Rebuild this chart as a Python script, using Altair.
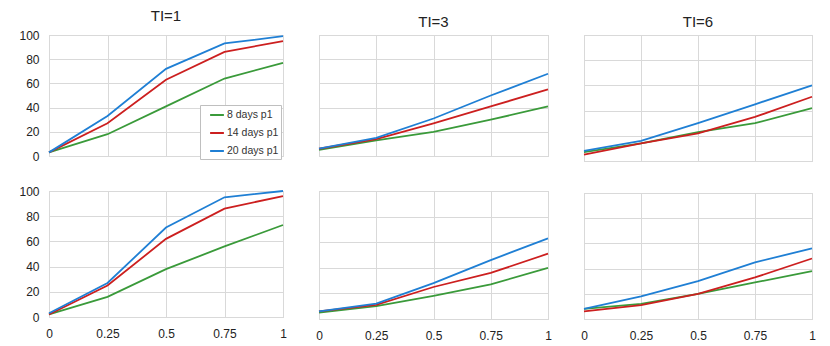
import altair as alt
import pandas as pd

x_vals = [0, 0.25, 0.5, 0.75, 1]
series_names = ["8 days p1", "14 days p1", "20 days p1"]
series_colors = ["#3a9a3a", "#cc1f1f", "#1f7fd4"]
ti_titles = ["TI=1", "TI=3", "TI=6"]

# top row
top_ti1_8 = [3, 18, 41, 64, 77]
top_ti1_14 = [3, 27, 63, 86, 95]
top_ti1_20 = [3, 33, 72, 93, 99]
top_ti3_8 = [5, 13, 20, 30, 41]
top_ti3_14 = [6, 14, 27, 41, 55]
top_ti3_20 = [6, 15, 31, 50, 68]
top_ti6_8 = [7, 14, 23, 30, 42]
top_ti6_14 = [5, 14, 22, 35, 51]
top_ti6_20 = [8, 16, 30, 45, 60]
# bottom row
bot_ti1_8 = [2, 16, 38, 56, 73]
bot_ti1_14 = [2, 25, 62, 86, 96]
bot_ti1_20 = [3, 27, 71, 95, 100]
bot_ti3_8 = [5, 10, 18, 27, 40]
bot_ti3_14 = [6, 11, 25, 36, 51]
bot_ti3_20 = [6, 12, 28, 46, 63]
bot_ti6_8 = [8, 12, 20, 29, 38]
bot_ti6_14 = [6, 11, 20, 33, 48]
bot_ti6_20 = [8, 18, 30, 45, 56]

panels = {
    ("top", 0): [top_ti1_8, top_ti1_14, top_ti1_20],
    ("top", 1): [top_ti3_8, top_ti3_14, top_ti3_20],
    ("top", 2): [top_ti6_8, top_ti6_14, top_ti6_20],
    ("bot", 0): [bot_ti1_8, bot_ti1_14, bot_ti1_20],
    ("bot", 1): [bot_ti3_8, bot_ti3_14, bot_ti3_20],
    ("bot", 2): [bot_ti6_8, bot_ti6_14, bot_ti6_20],
}

FONT = "Liberation Sans"
widths = [234, 229, 228]
top_heights = [121, 121, 126]
bot_heights = [126, 128, 126]
vspacing = [21, 33, 30]


def panel(row, col):
    rows = []
    for name, vals in zip(series_names, panels[(row, col)]):
        for x, v in zip(x_vals, vals):
            rows.append({"x": x, "value": v, "series": name})
    df = pd.DataFrame(rows)
    show_x = row == "bot"
    show_y = col == 0
    xaxis = alt.Axis(
        values=x_vals,
        labels=show_x,
        labelExpr="format(datum.value, '.2~f')",
        labelPadding=11,
        ticks=False,
        domain=False,
        title=None,
        labelFlush=False,
    )
    yaxis = alt.Axis(
        values=[0, 20, 40, 60, 80, 100],
        labels=show_y,
        labelPadding=10,
        ticks=False,
        domain=False,
        title=None,
    )
    legend = None
    if row == "top" and col == 0:
        legend = alt.Legend(
            title=None,
            orient="none",
            legendX=151,
            legendY=70,
            symbolType="stroke",
            symbolSize=190,
            symbolStrokeWidth=2,
            symbolOffset=7,
            labelOffset=2,
            labelFont=FONT,
            labelFontSize=10.5,
            labelColor="#333333",
            rowPadding=4,
            padding=2,
            strokeColor="#bfbfbf",
            fillColor="white",
        )
    h = top_heights[col] if row == "top" else bot_heights[col]
    props = dict(width=widths[col], height=h)
    if row == "top":
        props["title"] = alt.Title(
            ti_titles[col], font=FONT, fontSize=15, fontWeight="normal",
            color="#222222", offset=2, dy=-3, anchor="middle",
        )
    return (
        alt.Chart(df)
        .mark_line(strokeWidth=1.8)
        .encode(
            x=alt.X("x:Q", scale=alt.Scale(domain=[0, 1], nice=False), axis=xaxis),
            y=alt.Y("value:Q", scale=alt.Scale(domain=[0, 100], nice=False), axis=yaxis),
            color=alt.Color(
                "series:N",
                sort=series_names,
                scale=alt.Scale(domain=series_names, range=series_colors),
                legend=legend,
            ),
            order="x:Q",
        )
        .properties(**props)
    )


cols = [
    alt.vconcat(panel("top", c), panel("bot", c), spacing=vspacing[c])
    for c in range(3)
]
chart = (
    alt.hconcat(cols[0], cols[1], cols[2], spacing=26)
    .properties(padding={"left": 10, "top": 0, "right": 0, "bottom": 0})
    .configure_view(stroke="#d0d0d0", strokeWidth=1)
    .configure_axis(
        gridColor="#d9d9d9",
        gridWidth=1,
        labelFont=FONT,
        labelFontSize=12,
        labelColor="#222222",
    )
)

chart.save("out.html", embed_options={"renderer": "svg", "actions": False})
